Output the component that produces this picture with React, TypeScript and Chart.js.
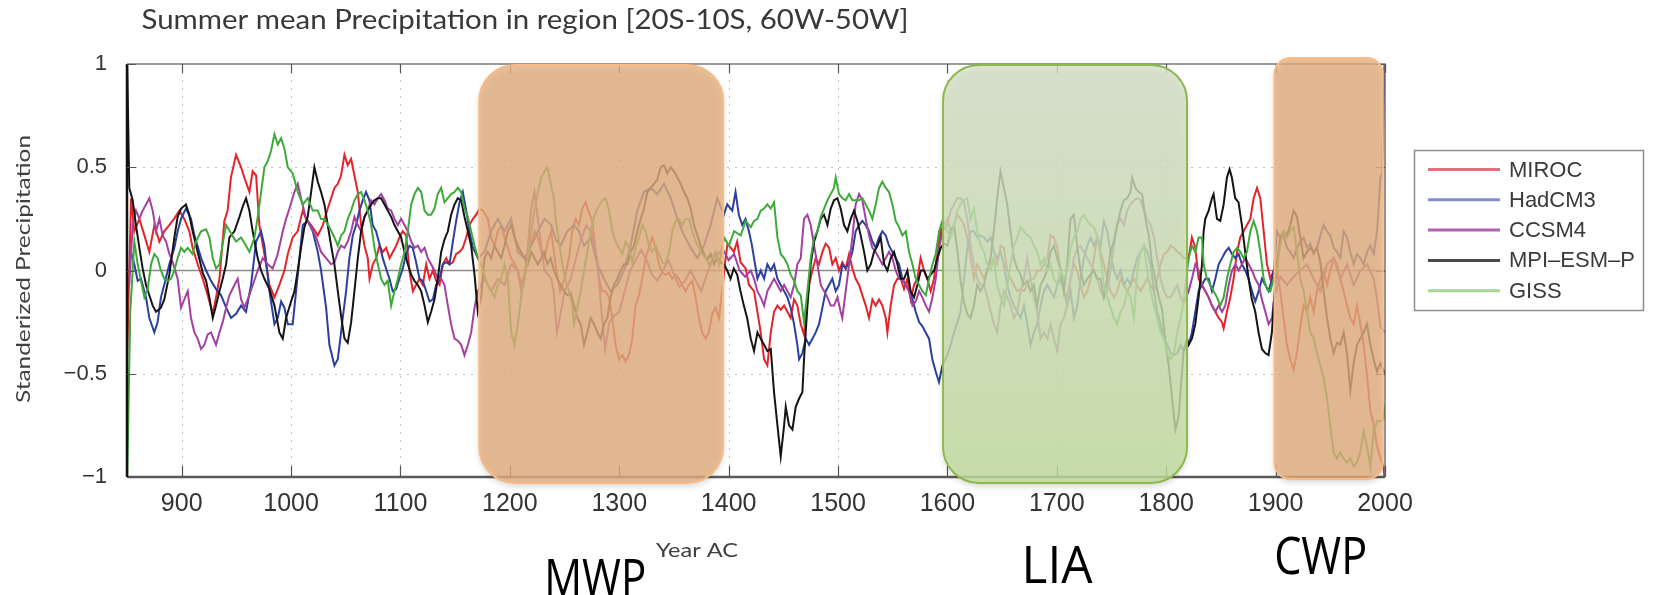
import React, { useEffect, useRef } from 'react';
import { Chart, registerables } from 'chart.js';

Chart.register(...registerables);

const TITLE = 'Summer mean Precipitation in region [20S-10S, 60W-50W]';
const Y_TITLE = 'Standerized Precipitation';
const X_TITLE = 'Year AC';
const X_TICKS = [900, 1000, 1100, 1200, 1300, 1400, 1500, 1600, 1700, 1800, 1900, 2000];
const Y_TICKS = [-1, -0.5, 0, 0.5, 1];
const SERIES_NAMES = ['MIROC', 'HadCM3', 'CCSM4', 'MPI\u2013ESM\u2013P', 'GISS'];

const PERIOD_NAMES = ['MWP', 'LIA', 'CWP'];
const PERIOD_START = [1172, 1596, 1899];
const PERIOD_END = [1395, 1819, 1998];

type P = [number, number];

const MIROC: P[] = [[850,-0.45],[853.7,0.35],[856.7,0.19],[861.3,0.25],[865.9,0.17],[870.4,0.09],[875,0.22],[879.6,0.14],[884,0.19],[888.7,0.22],[893,0.25],[897.9,0.29],[902.4,0.25],[907,0.19],[910,0.11],[914.6,0.03],[919.2,-0.04],[923.8,-0.12],[928.4,-0.21],[931.4,-0.13],[934.5,-0.04],[939,0.24],[942,0.29],[945,0.45],[949.7,0.56],[954.3,0.5],[957.3,0.45],[961.9,0.38],[964.9,0.48],[968,0.46],[971,0.22],[975.6,0.08],[980.2,-0.07],[984.8,-0.13],[989.3,-0.07],[993.9,0],[997,0.08],[1001.5,0.16],[1006,0.19],[1010.7,0.29],[1013.7,0.25],[1018.3,0.22],[1024.4,0.17],[1029,0.22],[1033.5,0.3],[1036.6,0.35],[1039.6,0.4],[1042.7,0.42],[1045.7,0.46],[1048.8,0.56],[1051.8,0.51],[1054.9,0.54],[1057.9,0.46],[1061,0.38],[1064,0.22],[1067.1,0.12],[1070.1,0.06],[1071.7,-0.04],[1074.7,0.03],[1077.8,0.06],[1080.8,0.12],[1083.9,0.09],[1086.9,0.11],[1090,0.06],[1093,0.09],[1096.1,0.12],[1099.1,0.16],[1102.1,0.19],[1105.2,0.17],[1108.2,0],[1111.3,-0.1],[1114.3,-0.07],[1117.4,-0.04],[1120.4,-0.07],[1123.5,0.03],[1126.5,-0.04],[1129.6,0],[1132.6,-0.05],[1135.7,-0.07],[1138.7,0.03],[1141.8,0.06],[1144.8,0.03],[1147.9,0.04],[1150.9,0.08],[1154,0.09],[1157,0.11],[1160.1,0.16],[1163.1,0.22],[1166.2,0.25],[1169.2,0.27],[1172.3,0.3],[1175.3,0.29],[1179.9,0.25],[1182.9,0.16],[1186,0.12],[1189,0.19],[1192.1,0.22],[1195.1,0.16],[1198.2,0.11],[1201.2,0.06],[1204.3,0.03],[1207.3,0],[1210.4,-0.07],[1213.4,-0.02],[1216.5,0.08],[1219.5,0.13],[1222.6,0.19],[1225.6,0.16],[1228.7,0.09],[1231.7,0.06],[1234.8,0.14],[1237.8,0.19],[1240,0.1],[1242.5,0],[1246,-0.1],[1250,-0.04],[1254,0.06],[1257,0.19],[1260.1,0.25],[1263.1,0.22],[1266.2,0.3],[1269.2,0.33],[1272.3,0.28],[1275.3,0.24],[1278.4,0.09],[1281.4,-0.04],[1284.5,-0.1],[1287.5,-0.1],[1290.6,-0.13],[1293.6,-0.23],[1296.6,-0.36],[1299.7,-0.43],[1302.7,-0.41],[1305.8,-0.44],[1308.8,-0.41],[1311.9,-0.33],[1314.9,-0.17],[1318,-0.12],[1321,-0.04],[1324.1,0.06],[1327.1,0.11],[1330.2,0.16],[1333.2,0.11],[1336.3,0.03],[1339.3,-0.01],[1342.4,-0.02],[1345.4,-0.01],[1348.4,-0.04],[1351.5,-0.02],[1354.5,-0.04],[1357.6,-0.07],[1360.6,-0.1],[1363.7,-0.07],[1366.7,-0.05],[1369.8,-0.13],[1372.8,-0.23],[1375.8,-0.3],[1378.9,-0.33],[1381.9,-0.3],[1385,-0.21],[1388,-0.18],[1391.1,-0.23],[1394,-0.1],[1397,0.05],[1399,0.13],[1404.8,0.09],[1407.8,0.14],[1410.9,0.04],[1415.5,0.01],[1418.6,-0.07],[1423.2,-0.1],[1426.3,-0.2],[1429.3,-0.3],[1432.4,-0.43],[1435.4,-0.46],[1438.5,-0.3],[1441.5,-0.2],[1444.6,-0.17],[1447.6,-0.19],[1450.7,-0.17],[1453.7,-0.2],[1456.7,-0.23],[1459.8,-0.14],[1462.8,-0.17],[1465.9,-0.26],[1468.9,-0.31],[1470.5,-0.23],[1473.5,-0.07],[1476.5,0],[1479.6,0.06],[1482.6,0.03],[1485.7,0.09],[1488.7,0.13],[1491.8,0.11],[1494.8,0.03],[1497.9,0.06],[1500.9,0],[1504,0.04],[1507,0.01],[1510.1,0.08],[1513.1,0.01],[1516.1,-0.04],[1519.2,-0.07],[1522.2,-0.12],[1525.3,-0.17],[1528.3,-0.23],[1531.4,-0.14],[1534.4,-0.17],[1537.5,-0.14],[1540.5,-0.17],[1543.6,-0.23],[1545.1,-0.3],[1548.1,-0.17],[1551.2,-0.07],[1554.2,-0.04],[1557.3,-0.04],[1560.3,-0.09],[1563.4,-0.04],[1566.4,-0.14],[1569.5,-0.07],[1572.5,-0.04],[1575.5,0.06],[1578.6,0],[1581.6,-0.04],[1584.7,-0.1],[1587.7,-0.04],[1590.8,0.09],[1593.8,0.19],[1596.9,0.22],[1600,0.25],[1603,0.19],[1606,0.22],[1609,0.27],[1612,0.25],[1615.1,0.22],[1618.1,0.16],[1621.2,0.06],[1624.2,-0.04],[1627.3,0.03],[1630.3,0],[1633.4,-0.04],[1636.4,0],[1639.5,0.04],[1642.5,0.06],[1645.5,0.03],[1648.6,0.12],[1651.6,0.11],[1654.7,0],[1657.7,-0.04],[1660.8,-0.07],[1663.8,-0.1],[1666.9,-0.09],[1669.9,-0.1],[1673,-0.07],[1676,-0.04],[1679.1,-0.04],[1682.1,0],[1685.2,0],[1688.2,0.03],[1691.3,0.06],[1694.3,0.17],[1697.3,0.16],[1700.4,0.11],[1703.4,0],[1706.5,-0.1],[1709.5,-0.13],[1712.6,-0.04],[1715.6,0.03],[1718.7,0],[1721.7,-0.07],[1724.8,-0.13],[1727.8,-0.1],[1730.9,-0.04],[1733.9,0.06],[1737,0.16],[1740,0.09],[1743,0.03],[1746.1,-0.04],[1749.1,-0.1],[1752.2,-0.13],[1755.2,-0.1],[1758.3,-0.04],[1761.3,-0.07],[1764.4,-0.1],[1767.4,-0.07],[1770.5,-0.04],[1773.5,-0.07],[1776.6,-0.1],[1779.6,-0.07],[1782.7,-0.04],[1785.7,-0.07],[1788.8,-0.1],[1791.8,-0.04],[1794.9,0.03],[1797.9,0.08],[1801,0.09],[1804,0.12],[1807.1,0.11],[1810.1,0.09],[1813.2,0.08],[1816,0.06],[1820.5,0.06],[1823.5,0.16],[1826.6,0.11],[1829.6,-0.04],[1832.7,-0.07],[1835.7,-0.1],[1838.8,-0.13],[1841.8,-0.17],[1844.9,-0.2],[1847.9,-0.23],[1851,-0.25],[1852.5,-0.28],[1855.5,-0.2],[1858.6,-0.13],[1861.6,-0.04],[1864.7,0.09],[1867.7,0.16],[1870.8,0.19],[1873.8,0.22],[1876.9,0.25],[1879.9,0.35],[1883,0.4],[1886,0.35],[1889.1,0.19],[1892.1,0.03],[1895.2,-0.04],[1898.2,0],[1901.2,0],[1904.3,-0.1],[1907.3,-0.23],[1910.4,-0.36],[1913.4,-0.43],[1916.5,-0.48],[1919.5,-0.4],[1922.6,-0.27],[1925.6,-0.17],[1928.7,-0.2],[1931.7,-0.13],[1934.8,-0.2],[1937.8,-0.1],[1940.9,-0.04],[1943.9,0],[1947,-0.07],[1950,0],[1953.1,0.06],[1956.1,0.03],[1959.2,-0.04],[1962.2,-0.1],[1965.3,-0.17],[1968.3,-0.23],[1971.4,-0.26],[1974.4,-0.17],[1977.5,-0.26],[1980.5,-0.36],[1983.6,-0.51],[1986.6,-0.68],[1989.7,-0.75],[1992.7,-0.85],[1995.8,-0.91],[1998.8,-0.95],[2000,-1.05]];

const HADCM3: P[] = [[853.7,0.09],[856.7,0.03],[859.8,-0.05],[862.8,-0.04],[867.4,-0.13],[870.4,-0.23],[875,-0.3],[878,-0.25],[881,-0.13],[884,-0.07],[888.7,0.03],[893.3,0.11],[896.3,0.19],[899.4,0.25],[903.9,0.3],[908.5,0.25],[911.6,0.17],[917.7,0.06],[922.3,0],[926.8,-0.05],[931.4,-0.09],[936,-0.12],[940.6,-0.18],[945.1,-0.23],[949.7,-0.21],[954.3,-0.17],[958.8,-0.2],[963.4,-0.07],[968,0.14],[972.6,0.19],[975.6,0.12],[980.2,-0.1],[984.8,-0.26],[987.8,-0.23],[990.9,-0.15],[993.9,-0.18],[997,-0.26],[1001.5,-0.26],[1006.1,-0.02],[1010.7,0.22],[1015.2,0.24],[1019.8,0.19],[1024.4,0.09],[1027.4,0],[1032,-0.18],[1035,-0.36],[1039.6,-0.46],[1042.7,-0.43],[1045.7,-0.3],[1047.2,-0.23],[1050.3,-0.1],[1053.3,0.06],[1056.4,0.17],[1059.4,0.22],[1062.5,0.29],[1065.5,0.34],[1068.5,0.38],[1071.6,0.34],[1074.6,0.22],[1077.7,0.19],[1080.7,0.13],[1083.8,0.06],[1086.8,0.01],[1089.9,-0.04],[1092.9,-0.1],[1096,-0.09],[1099,-0.04],[1102.1,0.01],[1105.1,0.08],[1108.2,0.12],[1111.2,0.11],[1114.3,0.04],[1117.4,-0.04],[1120.4,-0.05],[1123.5,-0.1],[1126.5,-0.15],[1129.6,-0.14],[1132.6,-0.07],[1135.7,-0.04],[1138.7,0.03],[1141.8,0.04],[1144.8,0.03],[1147.9,0.14],[1150.9,0.24],[1154,0.33],[1157,0.38],[1160.1,0.29],[1163.1,0.19],[1166.2,0.11],[1170.8,0.06],[1176.8,0.09],[1182.9,0.19],[1189,0.25],[1195.1,0.19],[1201.2,0.25],[1207.3,0.09],[1213.4,0.06],[1219.5,0.12],[1225.6,0.19],[1231.7,0.25],[1237.8,0.22],[1242,0.15],[1246.4,0.12],[1252.5,0.19],[1258.6,0.22],[1263.2,0.19],[1267.8,0.12],[1273.9,0.16],[1280,0.03],[1286,-0.04],[1292.1,-0.1],[1298.2,-0.07],[1304.3,0],[1310.4,0.12],[1316.5,0.29],[1322.6,0.38],[1328.7,0.4],[1334.8,0.37],[1340.9,0.42],[1347,0.35],[1353.1,0.25],[1359.2,0.17],[1365.3,0.11],[1371.4,0.06],[1377.4,0.12],[1383.5,0.22],[1389.6,0.35],[1395.6,0.27],[1398.7,0.32],[1403.3,0.29],[1406.3,0.38],[1409.3,0.27],[1412.4,0.22],[1415.4,0.25],[1418.5,0.19],[1421,0.13],[1423.2,0.06],[1426.3,-0.04],[1429.3,0],[1432.4,-0.04],[1435.4,0.03],[1438.5,0],[1441.5,0.03],[1444.6,-0.04],[1447.6,-0.07],[1450.7,-0.1],[1453.7,-0.13],[1456.7,-0.18],[1459.8,-0.26],[1462.8,-0.36],[1464.4,-0.43],[1467.4,-0.4],[1470.5,-0.33],[1473.5,-0.36],[1476.6,-0.33],[1479.6,-0.3],[1482.6,-0.26],[1485.7,-0.18],[1488.7,-0.1],[1491.8,-0.07],[1494.8,-0.04],[1497.9,-0.1],[1500.9,-0.07],[1504,0.03],[1507,0.01],[1510.1,0.04],[1513.1,0.09],[1516.1,0.19],[1519.2,0.22],[1522.2,0.24],[1525.3,0.22],[1528.3,0.19],[1531.4,0.14],[1534.4,0.11],[1537.5,0.16],[1540.5,0.19],[1543.6,0.17],[1546.6,0.12],[1549.7,0.09],[1552.7,0.06],[1555.8,0.03],[1558.8,-0.04],[1561.9,-0.07],[1564.9,-0.1],[1568,-0.14],[1571,-0.2],[1574.1,-0.25],[1577.1,-0.27],[1580.1,-0.3],[1583.2,-0.33],[1586.2,-0.43],[1589.3,-0.49],[1592.3,-0.54],[1595.4,-0.46],[1599.9,-0.41],[1603,-0.36],[1606,-0.3],[1609.1,-0.25],[1612,-0.2],[1615,-0.05],[1618,0.1],[1621,0.19],[1624.2,0.19],[1627.3,0.16],[1630.3,0.17],[1633.4,0.16],[1636.4,0.14],[1639.5,0.16],[1642.5,0.09],[1645.5,0.06],[1648.6,0.09],[1651.6,0.03],[1654.7,-0.07],[1657.7,-0.13],[1660.8,-0.17],[1663.8,-0.2],[1666.9,-0.23],[1669.9,-0.17],[1673,-0.26],[1676,-0.36],[1679.1,-0.3],[1682.1,-0.26],[1685.2,-0.17],[1688.2,-0.1],[1691.3,-0.07],[1694.3,-0.1],[1697.3,-0.13],[1700.4,-0.07],[1703.4,-0.04],[1706.5,-0.1],[1709.5,-0.17],[1712.6,-0.1],[1715.6,-0.23],[1718.7,-0.17],[1721.7,-0.04],[1724.8,0.06],[1727.8,0.12],[1730.9,0.16],[1733.9,0.12],[1737,0.16],[1740,0.12],[1743,0.24],[1746.1,0.19],[1749.1,0.09],[1752.2,0],[1755.2,-0.04],[1758.3,0],[1761.3,-0.07],[1764.4,-0.04],[1767.4,-0.07],[1770.5,0],[1773.5,0.06],[1776.6,0.09],[1779.6,0.12],[1782.7,0.09],[1785.7,0.03],[1788.8,-0.1],[1791.8,-0.2],[1794.9,-0.26],[1797.9,-0.33],[1801,-0.36],[1804,-0.4],[1807.1,-0.41],[1810.1,-0.4],[1813.2,-0.36],[1816,-0.39],[1820.5,-0.36],[1823.5,-0.3],[1826.6,-0.2],[1829.6,-0.1],[1832.7,-0.07],[1835.7,-0.04],[1838.8,-0.04],[1841.8,-0.1],[1844.9,-0.04],[1847.9,0.03],[1851,0.06],[1854,0.09],[1857.1,0.11],[1860.1,0.08],[1863.2,0.06],[1866.2,0.08],[1869.2,0.03],[1872.3,0],[1875.3,-0.04],[1878.4,-0.1],[1881.4,-0.15],[1884.5,-0.1],[1887.5,-0.04],[1890.6,-0.07],[1893.6,-0.1],[1896.7,-0.04],[1898.8,0.01],[1901.2,0.19],[1904.3,0.16],[1907.3,0.17],[1910.4,0.11],[1913.4,0.09],[1916.5,0.06],[1919.5,0.11],[1922.6,0.14],[1925.6,0.16],[1928.7,0.11],[1931.7,0.13],[1934.8,0.08],[1937.8,0.11],[1940.9,0.17],[1943.9,0.22],[1947,0.19],[1950,0.17],[1953.1,0.11],[1956.1,0.09],[1959.2,0.06],[1962.2,0.19],[1965.3,0.16],[1968.3,0.09],[1971.4,0.03],[1974.4,0.08],[1977.5,0.06],[1980.5,0.03],[1983.6,0.09],[1986.6,0.12],[1989.7,0.08],[1992.7,0.19],[1995.8,0.45],[1997.3,0.47],[2000,1.1]];

const CCSM4: P[] = [[852.1,-0.07],[855.2,0.22],[858.2,0.29],[861.3,0.25],[864.3,0.29],[867.4,0.32],[870.4,0.35],[873.5,0.29],[876.5,0.19],[879.6,0.25],[882.6,0.17],[885.7,0.14],[888.7,0.08],[891.8,0.04],[896.3,-0.04],[899.4,-0.18],[902.4,-0.14],[905.5,-0.1],[908.5,-0.23],[911.6,-0.3],[914.6,-0.33],[917.7,-0.38],[920.7,-0.36],[923.8,-0.31],[926.8,-0.3],[931.4,-0.36],[934.5,-0.3],[937.5,-0.25],[940.6,-0.18],[943.6,-0.12],[948.2,-0.07],[951.2,-0.04],[954.3,-0.14],[957.3,-0.18],[960.4,-0.14],[965,-0.07],[969.5,0],[974.1,0.06],[978.7,0.03],[983.2,0.01],[987.8,0.08],[992.4,0.19],[995.4,0.25],[998.5,0.3],[1003,0.38],[1006.1,0.42],[1009.1,0.35],[1013.7,0.25],[1018.3,0.21],[1022.9,0.16],[1027.4,0.09],[1032,0.06],[1036.6,0.03],[1039.6,0.04],[1042.7,0.09],[1045.7,0.12],[1048.8,0.11],[1051.8,0.14],[1054.9,0.19],[1057.9,0.26],[1061,0.22],[1064,0.19],[1067.1,0.26],[1070.1,0.29],[1073.2,0.34],[1076.2,0.32],[1079.3,0.35],[1082.3,0.37],[1085.4,0.34],[1088.4,0.3],[1091.5,0.29],[1094.5,0.25],[1097.6,0.22],[1100.6,0.25],[1103.7,0.22],[1106.7,0.19],[1109.8,0.14],[1112.8,0.11],[1115.9,0.12],[1118.9,0.09],[1122,0.11],[1125,0.06],[1128,0.03],[1131.1,0],[1134.1,-0.04],[1137.2,-0.04],[1140.2,-0.07],[1143.3,-0.17],[1146.3,-0.26],[1149.4,-0.33],[1152.4,-0.34],[1155.5,-0.36],[1158.5,-0.41],[1161.6,-0.36],[1164.6,-0.3],[1167.7,-0.18],[1170.7,-0.1],[1176.8,-0.04],[1182.9,-0.1],[1189,-0.04],[1195.1,-0.07],[1201.2,0.03],[1207.3,0],[1210.3,-0.1],[1213.4,-0.04],[1216.4,0.11],[1219.5,0.3],[1222.5,0.38],[1225.6,0.25],[1228.6,0.12],[1231.7,0],[1237.8,-0.04],[1240,-0.1],[1243,-0.3],[1246,-0.22],[1250,-0.1],[1255,-0.05],[1260,0.05],[1265,0.15],[1270,0.22],[1275,0.18],[1280,0.05],[1283,-0.15],[1287,-0.38],[1291,-0.25],[1295,-0.22],[1300,-0.2],[1305,-0.1],[1310,0],[1315,0.05],[1320,0.1],[1325,0.05],[1330,-0.02],[1335,-0.05],[1340,0],[1345,0.05],[1350,-0.02],[1355,-0.08],[1360,-0.05],[1365,0],[1370,-0.05],[1375,-0.1],[1380,-0.02],[1385,0.05],[1390,0.08],[1395,0.1],[1400,0.05],[1405,0.08],[1410,0],[1415,-0.03],[1420.2,0],[1423.2,-0.04],[1426.3,-0.1],[1429.3,-0.13],[1432.4,-0.17],[1435.4,-0.1],[1438.5,-0.07],[1441.5,-0.04],[1444.6,-0.07],[1447.6,-0.1],[1450.7,-0.07],[1453.7,-0.1],[1456.7,-0.13],[1459.8,-0.07],[1462.8,0.03],[1465.9,0.06],[1467.4,0.16],[1468.9,0.25],[1472,0.27],[1475,0.22],[1478.1,0.12],[1481.1,0.03],[1484.2,-0.07],[1487.2,-0.1],[1490.3,-0.13],[1493.3,-0.17],[1496.3,-0.17],[1499.4,-0.13],[1502.4,-0.2],[1503.9,-0.23],[1507,-0.1],[1510.1,0.03],[1513.1,0.16],[1516.1,0.32],[1519.2,0.37],[1522.2,0.34],[1525.3,0.25],[1528.3,0.17],[1531.4,0.11],[1534.4,0.09],[1537.5,0.06],[1540.5,0.03],[1543.6,0.06],[1546.6,0.09],[1549.7,0.06],[1552.7,0],[1555.8,-0.04],[1558.8,-0.04],[1561.9,-0.07],[1564.9,-0.1],[1568,-0.17],[1571,-0.15],[1574.1,-0.1],[1577.1,-0.13],[1580.2,-0.17],[1583.2,-0.2],[1586.3,-0.13],[1589.3,-0.04],[1592.4,0.11],[1595.4,0.19],[1600,0.22],[1603,0.29],[1606,0.32],[1609,0.35],[1612,0.35],[1615.1,0.33],[1618.1,0.25],[1621.2,0.12],[1624.2,0.03],[1627.3,-0.04],[1630.3,-0.07],[1633.4,-0.07],[1636.4,-0.13],[1639.5,-0.2],[1642.5,-0.26],[1645.5,-0.3],[1648.6,-0.17],[1651.6,-0.1],[1654.7,-0.13],[1657.7,-0.17],[1660.8,-0.23],[1663.8,-0.2],[1666.9,-0.1],[1669.9,-0.04],[1673,0.06],[1676,-0.04],[1679.1,-0.13],[1682.1,-0.2],[1685.2,-0.33],[1688.2,-0.3],[1691.3,-0.33],[1694.3,-0.26],[1697.3,-0.33],[1700.4,-0.39],[1703.4,-0.26],[1706.5,-0.23],[1709.5,-0.17],[1712.6,-0.04],[1715.6,0.06],[1718.7,0.11],[1721.7,0.12],[1724.8,0.09],[1727.8,0.06],[1730.9,0.03],[1733.9,0],[1737,-0.04],[1740,-0.1],[1743,-0.13],[1746.1,-0.1],[1749.1,0],[1752.2,0.12],[1755.2,0.22],[1758.3,0.25],[1761.3,0.22],[1764.4,0.29],[1767.4,0.32],[1770.5,0.34],[1773.5,0.35],[1776.6,0.34],[1779.6,0.29],[1782.7,0.25],[1785.7,0.22],[1788.8,0.16],[1791.8,0.06],[1794.9,-0.04],[1797.9,-0.1],[1801,-0.13],[1804,-0.13],[1807.1,-0.1],[1810.1,-0.07],[1813.2,-0.13],[1816,-0.16],[1820.5,-0.1],[1823.5,-0.04],[1826.6,0.03],[1829.6,0],[1832.7,-0.07],[1835.7,-0.1],[1838.8,-0.13],[1841.8,-0.17],[1844.9,-0.2],[1847.9,-0.17],[1851,-0.2],[1854,-0.17],[1857.1,-0.07],[1860.1,0],[1863.2,0.03],[1866.2,0],[1869.2,0.03],[1872.3,0.06],[1875.3,0.03],[1878.4,0],[1881.4,-0.04],[1884.5,-0.07],[1887.5,-0.14],[1890.6,-0.2],[1893.6,-0.26],[1896.7,-0.23],[1898.8,-0.13],[1904.3,-0.03],[1910.4,-0.07],[1916.5,-0.03],[1922.6,0],[1928.7,0.03],[1934.8,-0.04],[1940.9,-0.1],[1947,0.03],[1953.1,0.06],[1959.2,-0.04],[1965.3,0.03],[1971.4,-0.07],[1977.5,0],[1983.6,0.03],[1989.7,-0.04],[1992.7,-0.14],[1995.8,-0.27],[2000,-0.3]];

const MPI_ESM_P: P[] = [[850,1.05],[852.1,0.4],[855.2,0.34],[858.2,0.22],[861.3,0.11],[864.3,0.01],[867.4,-0.07],[870.4,-0.12],[873.5,-0.17],[876.5,-0.2],[881,-0.18],[884.1,-0.14],[888.7,-0.02],[893.3,0.16],[896.3,0.26],[899.4,0.3],[903.9,0.32],[906.9,0.27],[910,0.19],[914.6,0.09],[919.2,-0.01],[922.3,-0.05],[925.3,-0.13],[928.4,-0.23],[931.4,-0.17],[934.5,-0.1],[937.5,-0.04],[940.6,0.03],[943.6,0.16],[948.2,0.19],[952.8,0.26],[955.8,0.31],[958.8,0.35],[961.9,0.29],[964.9,0.19],[969.5,0.06],[972.6,0],[975.6,-0.04],[980.2,-0.09],[984.8,-0.17],[989.3,-0.3],[992.4,-0.33],[995.4,-0.23],[1000,-0.15],[1003.1,-0.1],[1006.1,0],[1009.1,0.11],[1012.2,0.21],[1015.2,0.26],[1018.3,0.38],[1021.3,0.5],[1024.4,0.43],[1027.4,0.38],[1030.5,0.32],[1033.5,0.22],[1036.6,0.12],[1039.6,0.03],[1042.7,-0.1],[1045.7,-0.22],[1048.8,-0.33],[1051.8,-0.35],[1054.9,-0.25],[1057.9,-0.1],[1061,0.06],[1064,0.19],[1067.1,0.26],[1070.1,0.29],[1073.2,0.32],[1076.2,0.34],[1079.3,0.35],[1082.3,0.35],[1085.4,0.32],[1088.4,0.29],[1091.5,0.26],[1094.5,0.22],[1097.6,0.19],[1100.6,0.16],[1103.7,0.09],[1106.7,0.03],[1109.8,-0.02],[1112.8,-0.05],[1115.9,-0.07],[1118.9,-0.1],[1122,-0.17],[1125,-0.25],[1128,-0.2],[1131.1,-0.14],[1134.1,-0.04],[1137.2,0.09],[1140.2,0.15],[1143.3,0.19],[1146.3,0.27],[1149.4,0.32],[1152.4,0.35],[1155.5,0.34],[1158.5,0.26],[1161.6,0.19],[1164.6,0.12],[1167.7,-0.02],[1170.7,-0.2],[1173.7,-0.13],[1176.8,0.06],[1179.8,0.09],[1182.9,0.06],[1185.9,0.12],[1189,0.09],[1192,0.06],[1195.1,0.12],[1198.1,0.19],[1201.2,0.22],[1204.2,0.16],[1207.3,0.12],[1210.3,0.09],[1213.4,0.06],[1216.4,0.03],[1219.5,0.09],[1222.5,0.06],[1225.6,0.03],[1228.6,0.06],[1231.2,0.09],[1234.3,0.03],[1237.3,0.06],[1240.3,0],[1243.4,-0.04],[1246.4,-0.07],[1249.5,-0.1],[1252.5,-0.12],[1255.6,-0.11],[1258.6,-0.17],[1261.7,-0.23],[1264.7,-0.26],[1267.8,-0.36],[1270.8,-0.3],[1273.9,-0.23],[1276.9,-0.26],[1280,-0.3],[1283,-0.33],[1286,-0.26],[1289.1,-0.23],[1292.1,-0.13],[1295.2,-0.07],[1298.2,-0.04],[1301.3,0],[1304.3,0.03],[1307.4,0.03],[1310.4,0.09],[1313.5,0.12],[1316.5,0.19],[1319.6,0.25],[1322.6,0.3],[1325.7,0.38],[1328.7,0.4],[1331.8,0.42],[1334.8,0.44],[1337.9,0.5],[1340.9,0.51],[1343.9,0.47],[1347,0.5],[1350,0.48],[1353.1,0.45],[1356.1,0.42],[1359.2,0.38],[1362.2,0.35],[1365.3,0.3],[1368.3,0.22],[1371.4,0.17],[1374.4,0.12],[1377.5,0.08],[1380.5,0.05],[1383.5,0.08],[1386.6,0.03],[1389.6,0.06],[1392.7,0.04],[1395.6,0.03],[1398.7,0],[1401.7,-0.04],[1404.7,0.01],[1407.8,-0.02],[1410.8,-0.1],[1413.9,-0.17],[1416.9,-0.23],[1420.2,-0.33],[1423.2,-0.39],[1426.3,-0.3],[1429.3,-0.33],[1432.4,-0.36],[1435.4,-0.39],[1438.5,-0.38],[1441.5,-0.59],[1444.6,-0.75],[1447.6,-0.9],[1450.7,-0.75],[1452.2,-0.66],[1455.2,-0.75],[1458.3,-0.77],[1461.3,-0.66],[1464.4,-0.62],[1467.4,-0.59],[1468.9,-0.43],[1472,-0.17],[1475,0.03],[1478.1,0.14],[1481.1,0.19],[1484.2,0.25],[1487.2,0.27],[1490.3,0.22],[1493.3,0.3],[1496.3,0.34],[1499.4,0.35],[1502.4,0.3],[1505.5,0.22],[1508.5,0.19],[1511.6,0.25],[1514.6,0.29],[1517.7,0.24],[1520.7,0.17],[1523.8,0.09],[1526.8,0],[1529.9,0.03],[1532.9,0.09],[1536,0.12],[1539,0.16],[1542.1,0.03],[1545.1,0],[1548.2,0.06],[1551.2,0.09],[1554.3,0.03],[1557.3,-0.04],[1560.3,-0.04],[1563.4,0],[1566.4,-0.1],[1569.5,-0.13],[1572.5,-0.07],[1575.6,0],[1578.6,0],[1581.7,-0.04],[1584.7,-0.02],[1587.8,0],[1590.8,0.06],[1593.9,0.11],[1596.9,0.13],[1600,0.12],[1603,0.19],[1606,0.22],[1609,0.1],[1612,-0.05],[1615,-0.15],[1618.1,-0.21],[1621.1,-0.23],[1624.2,-0.17],[1627.2,-0.07],[1630.2,-0.1],[1633.3,-0.07],[1636.3,0],[1639.4,0.06],[1642.4,0.19],[1645.5,0.35],[1648.5,0.48],[1651.6,0.4],[1654.6,0.32],[1657.7,0.19],[1660.7,0.06],[1663.8,0.01],[1666.8,-0.02],[1669.8,-0.07],[1672.9,-0.05],[1675.9,-0.1],[1679,-0.07],[1682,-0.17],[1685.1,-0.07],[1688.1,-0.04],[1691.2,0],[1694.2,0.09],[1697.3,0.12],[1700.3,0.06],[1703.4,0.01],[1706.4,-0.1],[1709.4,0.03],[1712.5,0.25],[1715.5,0.27],[1718.6,0.12],[1721.6,0],[1724.7,-0.07],[1727.7,-0.04],[1730.8,-0.02],[1733.8,0],[1736.9,-0.04],[1739.9,-0.04],[1742.9,-0.13],[1746,-0.04],[1749,0.09],[1752.1,0.14],[1755.1,0.22],[1758.2,0.29],[1761.2,0.34],[1764.3,0.35],[1767.3,0.38],[1768.8,0.45],[1771.9,0.4],[1774.9,0.38],[1778,0.37],[1781,0.25],[1784.1,0.17],[1787.1,0.03],[1790.2,-0.05],[1793.2,-0.13],[1796.3,-0.19],[1799.3,-0.35],[1802.3,-0.46],[1805.4,-0.62],[1808.4,-0.77],[1811.5,-0.7],[1813,-0.59],[1815.9,-0.39],[1819,-0.33],[1820.5,-0.36],[1823.5,-0.33],[1826.6,-0.26],[1829.6,-0.13],[1832.7,0.03],[1834.2,0.19],[1835.7,0.25],[1838.8,0.29],[1841.8,0.35],[1843.3,0.37],[1846.4,0.25],[1849.4,0.24],[1852.5,0.32],[1855.5,0.45],[1857.9,0.49],[1860,0.45],[1863.1,0.35],[1866.1,0.33],[1869.2,0.22],[1872.2,0.09],[1875.3,-0.04],[1878.3,-0.14],[1881.4,-0.2],[1884.4,-0.3],[1887.5,-0.38],[1890.5,-0.4],[1893.5,-0.41],[1896.6,-0.3],[1898.7,-0.13],[1901.2,0.03],[1904.3,0.16],[1907.3,0.19],[1910.4,0.17],[1913.4,0.22],[1916.5,0.29],[1919.5,0.26],[1922.6,0.16],[1925.6,0.06],[1928.7,0.09],[1931.7,0.11],[1934.8,0.09],[1937.8,0.11],[1940.9,0.04],[1943.9,-0.1],[1947,-0.23],[1950,-0.33],[1953,-0.4],[1956.1,-0.35],[1959.1,-0.36],[1962.2,-0.3],[1965.2,-0.4],[1968.3,-0.58],[1971.3,-0.45],[1974.4,-0.36],[1977.4,-0.33],[1980.5,-0.3],[1983.5,-0.26],[1986.6,-0.36],[1989.6,-0.43],[1992.7,-0.49],[1995.7,-0.45],[2000,-0.5]];

const GISS: P[] = [[850,-1.05],[853,-0.2],[856.7,0.14],[859.8,0.03],[862.8,-0.05],[865.9,-0.13],[868.9,-0.09],[872,0.03],[875,0.08],[878,0.06],[881,0],[884.1,-0.04],[887.2,-0.05],[890.2,-0.04],[893.3,0],[896.3,0.06],[899.4,0.11],[902.4,0.09],[905.5,0.11],[910,0.08],[913.1,0.14],[917.7,0.19],[922.3,0.2],[925.3,0.16],[928.4,0.06],[931.4,0.01],[934.5,0.03],[937.5,0.13],[940.6,0.22],[945.1,0.18],[949.7,0.14],[954.3,0.16],[958.8,0.12],[961.9,0.09],[966.5,0.16],[969.5,0.26],[972.6,0.38],[975.6,0.5],[978.7,0.53],[981.7,0.58],[984.8,0.66],[987.8,0.61],[990.9,0.64],[993.9,0.59],[997,0.5],[1001.5,0.47],[1006.1,0.38],[1010.7,0.32],[1015.2,0.35],[1019.8,0.29],[1024.4,0.29],[1027.4,0.25],[1030.5,0.25],[1035,0.21],[1039.6,0.16],[1042.7,0.12],[1045.7,0.17],[1048.8,0.19],[1051.8,0.25],[1054.9,0.29],[1057.9,0.34],[1061,0.37],[1064,0.38],[1067.1,0.34],[1070.1,0.29],[1073.2,0.22],[1076.2,0.11],[1079.3,0.03],[1082.3,-0.04],[1085.4,-0.07],[1088.4,-0.05],[1091.5,-0.17],[1094.5,-0.1],[1097.6,-0.04],[1100.6,0.03],[1103.7,0.09],[1106.7,0.19],[1109.8,0.32],[1112.8,0.37],[1115.9,0.4],[1118.9,0.38],[1122,0.29],[1125,0.27],[1128,0.27],[1131.1,0.3],[1134.1,0.37],[1137.2,0.4],[1140.2,0.33],[1143.3,0.35],[1146.3,0.37],[1149.4,0.38],[1152.4,0.4],[1155.5,0.38],[1158.5,0.3],[1161.6,0.26],[1164.6,0.19],[1167.7,0.12],[1170.7,0.06],[1173.7,0.03],[1179.8,-0.07],[1182.9,-0.1],[1185.9,-0.13],[1189,-0.07],[1192,-0.04],[1195.1,0.03],[1198.1,-0.04],[1201.2,-0.3],[1204.2,-0.36],[1207.3,-0.26],[1210.3,-0.13],[1213.4,-0.04],[1216.4,0.06],[1219.5,0.19],[1222.5,0.29],[1225.6,0.38],[1228.6,0.45],[1231.5,0.48],[1234.3,0.5],[1237.3,0.42],[1240.3,0.35],[1241.8,0.25],[1244.9,0.14],[1248,0.03],[1251,-0.05],[1254,-0.1],[1257.1,-0.17],[1258.6,-0.26],[1261.7,-0.18],[1264.7,-0.1],[1267.8,0],[1270.8,0.09],[1273.9,0.19],[1276.9,0.26],[1280,0.3],[1284.5,0.34],[1287.6,0.35],[1290.6,0.29],[1293.7,0.19],[1296.7,0.14],[1299.7,0.11],[1302.8,0.08],[1305.8,0.14],[1308.9,0.11],[1311.9,0.04],[1315,0.11],[1318,0.16],[1321.1,0.22],[1324.1,0.19],[1327.2,0.12],[1330.2,0.09],[1333.3,0.12],[1336.3,0.08],[1339.4,0.04],[1342.4,0.03],[1345.5,0.09],[1348.5,0.19],[1351.6,0.24],[1354.6,0.25],[1357.7,0.22],[1360.7,0.25],[1363.8,0.25],[1366.8,0.19],[1369.9,0.14],[1372.9,0.11],[1376,0.08],[1379,0.06],[1382.1,0.03],[1385.1,0.06],[1388.1,0.09],[1391.2,0.03],[1395.8,0.16],[1400.3,0.12],[1404.9,0.19],[1411,0.17],[1415.6,0.24],[1420.2,0.21],[1423.2,0.24],[1426.3,0.25],[1429.3,0.29],[1432.4,0.3],[1435.4,0.32],[1438.5,0.3],[1441.5,0.33],[1444.6,0.16],[1447.6,0.08],[1450.7,0.06],[1453.7,0.03],[1456.7,-0.02],[1459.8,-0.05],[1462.8,-0.1],[1465.9,-0.12],[1468.9,-0.25],[1472,-0.1],[1475,0.06],[1478.1,0.16],[1481.1,0.19],[1484.2,0.26],[1487.2,0.3],[1490.3,0.34],[1493.3,0.37],[1496.3,0.4],[1497.9,0.45],[1500.9,0.37],[1504,0.35],[1507,0.34],[1510.1,0.37],[1513.1,0.34],[1516.1,0.34],[1519.2,0.34],[1522.2,0.35],[1525.3,0.32],[1528.3,0.29],[1531.4,0.25],[1534.4,0.32],[1537.5,0.4],[1540.5,0.43],[1543.6,0.4],[1546.6,0.38],[1549.7,0.32],[1552.7,0.24],[1555.8,0.21],[1558.8,0.17],[1561.9,0.19],[1564.9,0.09],[1568,0.03],[1571,-0.04],[1574.1,-0.07],[1577.1,-0.1],[1580.2,-0.12],[1583.2,-0.04],[1586.3,0.03],[1589.3,0.08],[1592.4,0.19],[1595.4,0.24],[1600,0.19],[1603,0.16],[1606,0.22],[1609,0.29],[1612,0.32],[1615.1,0.34],[1618.1,0.35],[1621.2,0.25],[1624.2,0.3],[1627.3,0.19],[1630.3,0.12],[1633.4,0.09],[1636.4,0.03],[1639.5,0],[1642.5,0.06],[1645.5,-0.07],[1648.6,-0.13],[1651.6,-0.17],[1654.7,-0.07],[1657.7,0.03],[1660.8,0.12],[1663.8,0.16],[1666.9,0.21],[1669.9,0.19],[1673,0.17],[1676,0.16],[1679.1,0.12],[1682.1,0.09],[1685.2,0.03],[1688.2,0.06],[1691.3,0],[1694.3,0.03],[1697.3,-0.04],[1700.4,-0.07],[1703.4,0],[1706.5,-0.04],[1709.5,0],[1712.6,0.11],[1715.6,0.16],[1718.7,0.19],[1721.7,0.25],[1724.8,0.27],[1727.8,0.24],[1730.9,0.22],[1733.9,0.21],[1737,0.16],[1740,0.06],[1743,-0.07],[1746.1,-0.13],[1749.1,-0.18],[1752.2,-0.23],[1755.2,-0.26],[1758.3,-0.2],[1761.3,-0.17],[1764.4,-0.1],[1767.4,-0.13],[1770.5,-0.23],[1773.5,0],[1776.6,0.09],[1779.6,0.12],[1782.7,0],[1785.7,-0.1],[1788.8,-0.17],[1791.8,-0.23],[1794.9,-0.3],[1797.9,-0.33],[1801,-0.4],[1804,-0.43],[1807.1,-0.4],[1810.1,-0.3],[1813.2,-0.23],[1816,-0.15],[1819,0],[1820.5,0.06],[1823.5,0.12],[1826.6,0.09],[1829.6,0.16],[1832.7,0.16],[1834.2,0.03],[1837.2,-0.04],[1840.3,-0.07],[1843.3,-0.1],[1846.4,-0.13],[1849.4,-0.17],[1852.5,-0.13],[1855.5,-0.04],[1858.6,0.03],[1861.6,0.09],[1864.7,0.11],[1867.7,0.09],[1870.8,0.06],[1873.8,0.09],[1876.9,0.19],[1879.9,0.24],[1883,0.19],[1886,0.09],[1889.1,-0.04],[1892.1,-0.09],[1895.2,-0.1],[1898.2,-0.04],[1901.2,0],[1904.3,0.13],[1907.3,0.19],[1910.4,0.16],[1913.4,0.19],[1916.5,0.21],[1919.5,0.09],[1922.6,-0.04],[1925.6,-0.1],[1928.7,-0.2],[1931.7,-0.3],[1934.8,-0.33],[1937.8,-0.4],[1940.9,-0.46],[1943.9,-0.52],[1947,-0.62],[1950,-0.75],[1953,-0.88],[1956.1,-0.91],[1959.1,-0.88],[1962.2,-0.91],[1965.2,-0.93],[1968.3,-0.91],[1971.3,-0.95],[1974.4,-0.93],[1977.4,-0.88],[1980.5,-0.78],[1983.5,-0.85],[1986.6,-0.95],[1989.6,-0.78],[1992.7,-0.73],[1995.7,-0.73],[1998.8,-0.72],[2000,-0.65]];

const SERIES: P[][] = [MIROC, HADCM3, CCSM4, MPI_ESM_P, GISS];

// ---- styles / layout (not data) ----
const LINE_COLORS = ['#E5232B', '#2B3F9E', '#A340A2', '#141414', '#3DAA3A'];
const LEGEND_COLORS = ['#E3707C', '#8090C6', '#B262AE', '#4a4a4a', '#A6D597'];
const W = 1654;
const H = 595;

function roundRectPath(ctx: CanvasRenderingContext2D, x: number, y: number, w: number, h: number, r: number) {
  ctx.beginPath();
  ctx.moveTo(x + r, y);
  ctx.lineTo(x + w - r, y);
  ctx.arcTo(x + w, y, x + w, y + r, r);
  ctx.lineTo(x + w, y + h - r);
  ctx.arcTo(x + w, y + h, x + w - r, y + h, r);
  ctx.lineTo(x + r, y + h);
  ctx.arcTo(x, y + h, x, y + h - r, r);
  ctx.lineTo(x, y + r);
  ctx.arcTo(x, y, x + r, y, r);
  ctx.closePath();
}

function fitText(ctx: CanvasRenderingContext2D, text: string, font: string, cx: number, baseline: number, targetW: number, color: string, rotate = false) {
  ctx.save();
  ctx.font = font;
  const w = ctx.measureText(text).width;
  const sx = targetW / w;
  ctx.translate(cx, baseline);
  if (rotate) ctx.rotate(-Math.PI / 2);
  ctx.scale(sx, 1);
  ctx.fillStyle = color;
  ctx.textAlign = 'center';
  ctx.textBaseline = 'alphabetic';
  ctx.fillText(text, 0, 0);
  ctx.restore();
}

const decorPlugin = {
  id: 'decor',
  beforeDatasetsDraw(chart: any) {
    const { ctx, chartArea: a, scales } = chart;
    const x = scales.x;
    const y = scales.y;
    ctx.save();
    ctx.strokeStyle = '#c2c2c2';
    ctx.lineWidth = 1;
    ctx.setLineDash([2, 6]);
    X_TICKS.forEach((v) => {
      if (v >= 2000) return;
      const px = Math.round(x.getPixelForValue(v)) + 0.5;
      ctx.beginPath();
      ctx.moveTo(px, a.top);
      ctx.lineTo(px, a.bottom);
      ctx.stroke();
    });
    Y_TICKS.forEach((v) => {
      if (v === 0 || Math.abs(v) === 1) return;
      const py = Math.round(y.getPixelForValue(v)) + 0.5;
      ctx.beginPath();
      ctx.moveTo(a.left, py);
      ctx.lineTo(a.right, py);
      ctx.stroke();
    });
    ctx.setLineDash([]);
    ctx.strokeStyle = '#8c8c8c';
    ctx.lineWidth = 1.5;
    const py0 = y.getPixelForValue(0);
    ctx.beginPath();
    ctx.moveTo(a.left, py0);
    ctx.lineTo(a.right, py0);
    ctx.stroke();
    ctx.restore();
  },
  afterDatasetsDraw(chart: any) {
    const { ctx, chartArea: a, scales } = chart;
    const x = scales.x;
    const y = scales.y;
    ctx.save();
    // frame
    ctx.strokeStyle = '#7a7a7a';
    ctx.lineWidth = 1.5;
    ctx.beginPath();
    ctx.moveTo(a.left, a.top);
    ctx.lineTo(a.right, a.top);
    ctx.lineTo(a.right, a.bottom);
    ctx.stroke();
    ctx.strokeStyle = '#5a5a5a';
    ctx.lineWidth = 2.5;
    ctx.beginPath();
    ctx.moveTo(a.left, a.bottom);
    ctx.lineTo(a.right, a.bottom);
    ctx.stroke();
    ctx.strokeStyle = '#111';
    ctx.lineWidth = 2.5;
    ctx.beginPath();
    ctx.moveTo(a.left, a.top);
    ctx.lineTo(a.left, a.bottom);
    ctx.stroke();
    // inner tick marks
    ctx.strokeStyle = '#555';
    ctx.lineWidth = 1.2;
    X_TICKS.forEach((v) => {
      const px = Math.round(x.getPixelForValue(v)) + 0.5;
      ctx.beginPath();
      ctx.moveTo(px, a.bottom);
      ctx.lineTo(px, a.bottom - 11);
      ctx.moveTo(px, a.top);
      ctx.lineTo(px, a.top + 9);
      ctx.stroke();
    });
    Y_TICKS.forEach((v) => {
      const py = Math.round(y.getPixelForValue(v)) + 0.5;
      ctx.beginPath();
      ctx.moveTo(a.left, py);
      ctx.lineTo(a.left + 9, py);
      ctx.moveTo(a.right, py);
      ctx.lineTo(a.right - 9, py);
      ctx.stroke();
    });
    // period boxes overlaid on the lines
    PERIOD_NAMES.forEach((name, i) => {
      const x0 = x.getPixelForValue(PERIOD_START[i]);
      const x1 = x.getPixelForValue(PERIOD_END[i]);
      const top = name === 'CWP' ? a.top - 6 : a.top + 1;
      const bottom = name === 'CWP' ? a.bottom + 2 : a.bottom + 6;
      const r = name === 'CWP' ? 16 : 36;
      ctx.save();
      roundRectPath(ctx, x0, top, x1 - x0, bottom - top, r);
      ctx.shadowColor = 'rgba(0,0,0,0.22)';
      ctx.shadowBlur = 6;
      ctx.shadowOffsetY = 3;
      if (name === 'LIA') {
        const g = ctx.createLinearGradient(0, top, 0, bottom);
        g.addColorStop(0, 'rgba(214,226,202,0.8)');
        g.addColorStop(1, 'rgba(196,222,160,0.82)');
        ctx.fillStyle = g;
      } else {
        ctx.fillStyle = 'rgba(228,176,128,0.8)';
      }
      ctx.fill();
      ctx.shadowColor = 'transparent';
      ctx.lineWidth = 2;
      ctx.strokeStyle = name === 'LIA' ? '#8CB94D' : '#F6BB88';
      ctx.stroke();
      ctx.restore();
    });
    ctx.restore();
  },
  afterDraw(chart: any) {
    const { ctx, scales } = chart;
    const x = scales.x;
    fitText(ctx, TITLE, '26px Lato', 525, 29, 767, '#383838');
    fitText(ctx, Y_TITLE, '20px Lato', 30, 269, 268, '#404040', true);
    fitText(ctx, X_TITLE, '20px Lato', 697, 557, 82, '#404040');
    const labelBase = [596, 583, 574];
    const labelW = [102, 71, 93];
    const labelShift = [-6, -8, -8];
    PERIOD_NAMES.forEach((name, i) => {
      const cx = x.getPixelForValue((PERIOD_START[i] + PERIOD_END[i]) / 2) + labelShift[i];
      fitText(ctx, name, '52px "Open Sans"', cx, labelBase[i], labelW[i], '#000');
    });
    // legend
    ctx.save();
    const lx = 1414, ly = 150, lw = 229, lh = 160;
    ctx.fillStyle = '#fff';
    ctx.fillRect(lx, ly, lw, lh);
    ctx.strokeStyle = '#8e8e8e';
    ctx.lineWidth = 1.5;
    ctx.strokeRect(lx + 0.5, ly + 0.5, lw, lh);
    SERIES_NAMES.forEach((name, i) => {
      const yy = 169.5 + i * 30.3;
      ctx.strokeStyle = LEGEND_COLORS[i];
      ctx.lineWidth = 3;
      ctx.beginPath();
      ctx.moveTo(1428, yy);
      ctx.lineTo(1500, yy);
      ctx.stroke();
      ctx.fillStyle = '#3a3a3a';
      ctx.font = '22px "Liberation Sans"';
      ctx.textAlign = 'left';
      ctx.textBaseline = 'middle';
      ctx.fillText(name, 1509, yy + 1);
    });
    ctx.restore();
  },
};

export default function App() {
  const ref = useRef<HTMLCanvasElement | null>(null);
  useEffect(() => {
    if (!ref.current) return;
    const datasets = SERIES.map((s, i) => ({
      label: SERIES_NAMES[i],
      data: s.map(([yr, v]) => ({ x: yr, y: v })),
      borderColor: LINE_COLORS[i],
      borderWidth: 2,
      pointRadius: 0,
      fill: false,
      tension: 0,
      order: 5 - i,
    }));
    const chart = new Chart(ref.current, {
      type: 'line',
      data: { datasets },
      plugins: [decorPlugin],
      options: {
        animation: false,
        responsive: false,
        devicePixelRatio: 1,
        layout: { padding: { left: 0, top: 64, right: 269, bottom: 0 } },
        plugins: { legend: { display: false }, tooltip: { enabled: false }, title: { display: false } },
        scales: {
          x: {
            type: 'linear',
            min: 850,
            max: 2000,
            grid: { display: false },
            border: { display: false },
            afterBuildTicks: (s: any) => { s.ticks = X_TICKS.map((v) => ({ value: v })); },
            afterFit: (s: any) => { s.height = 118; },
            ticks: {
              autoSkip: false,
              maxRotation: 0,
              padding: 4,
              color: '#333',
              font: { family: '"Liberation Sans"', size: 25 },
              callback: (v: any) => String(v),
            },
          },
          y: {
            type: 'linear',
            min: -1,
            max: 1,
            grid: { display: false },
            border: { display: false },
            afterBuildTicks: (s: any) => { s.ticks = Y_TICKS.map((v) => ({ value: v })); },
            afterFit: (s: any) => { s.width = 127; },
            ticks: {
              padding: 12,
              color: '#333',
              font: { family: '"Liberation Sans"', size: 22 },
              callback: (v: any) => (v < 0 ? '\u2212' + String(Math.abs(v)) : String(v)),
            },
          },
        },
      } as any,
    });
    return () => chart.destroy();
  }, []);
  return (
    <div style={{ position: 'fixed', left: 0, top: 0, width: W, height: H, background: '#fff' }}>
      <canvas ref={ref} width={W} height={H} style={{ display: 'block', width: W, height: H }} />
    </div>
  );
}
